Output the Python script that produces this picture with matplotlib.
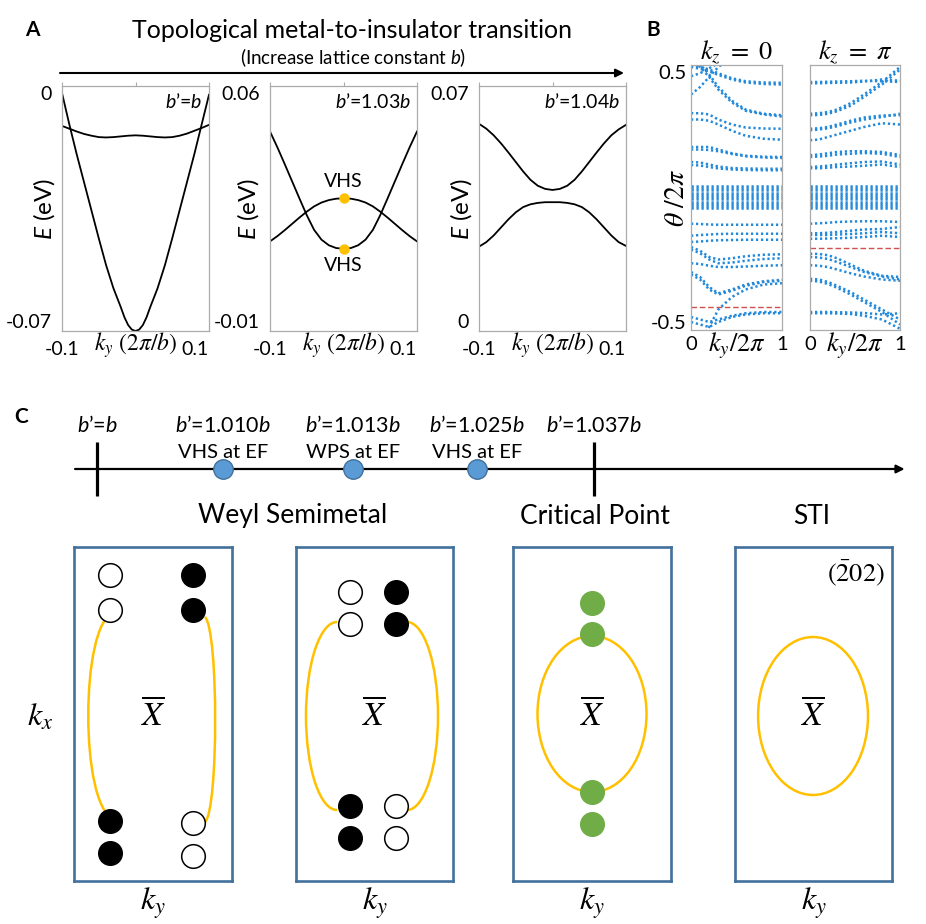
import numpy as np
import matplotlib
matplotlib.use('Agg')
import matplotlib.pyplot as plt
from matplotlib.patches import Arc, Ellipse, PathPatch
from matplotlib.path import Path

plt.rcParams['font.family'] = ['Lato', 'DejaVu Sans']
plt.rcParams['mathtext.fontset'] = 'custom'
plt.rcParams['mathtext.rm'] = 'Lato'
plt.rcParams['mathtext.it'] = 'Lato:italic'
plt.rcParams['mathtext.bf'] = 'Lato:bold'

# ---------------- data ----------------
# panel A: band dispersions E(ky), ky in units of 2pi/b
ky_a = [-0.1, -0.09, -0.08, -0.07, -0.06, -0.05, -0.04, -0.03, -0.02, -0.01, 0.0,
        0.01, 0.02, 0.03, 0.04, 0.05, 0.06, 0.07, 0.08, 0.09, 0.1]
ky_a_fine = [-0.1, -0.09, -0.08, -0.07, -0.06, -0.05, -0.04, -0.03, -0.02, -0.015, -0.01, -0.005, 0.0,
             0.005, 0.01, 0.015, 0.02, 0.03, 0.04, 0.05, 0.06, 0.07, 0.08, 0.09, 0.1]
e_b100_lower = [-0.002, -0.011, -0.0195, -0.0275, -0.0355, -0.0435, -0.0512, -0.0578, -0.0632, -0.0661, -0.0683,
                -0.0696, -0.070,
                -0.0696, -0.0683, -0.0661, -0.0632, -0.0578, -0.0512, -0.0435, -0.0355, -0.0275, -0.0195,
                -0.011, -0.0025]
e_b100_flat = [-0.0114, -0.0122, -0.0130, -0.0137, -0.0142, -0.0146, -0.0147, -0.0146, -0.0144, -0.0142, -0.0141,
               -0.0142, -0.0144, -0.0146, -0.0147, -0.0146, -0.0142, -0.0136, -0.0128, -0.0120, -0.0111]
e_b103_u = [0.047, 0.0425, 0.0377, 0.0328, 0.0279, 0.0231, 0.0189, 0.0161, 0.0145, 0.0137, 0.0135,
            0.0137, 0.0145, 0.0161, 0.0189, 0.0231, 0.0279, 0.0328, 0.0377, 0.0425, 0.047]
e_b103_hump = [0.0156, 0.0171, 0.0188, 0.0206, 0.0224, 0.0241, 0.0256, 0.0267, 0.0274, 0.0278, 0.0279,
               0.0278, 0.0274, 0.0267, 0.0256, 0.0241, 0.0224, 0.0206, 0.0188, 0.0171, 0.0156]
e_b104_upper = [0.0592, 0.0578, 0.0559, 0.0536, 0.0510, 0.0483, 0.0456, 0.0432, 0.0415, 0.0406, 0.0403,
                0.0406, 0.0415, 0.0432, 0.0456, 0.0483, 0.0510, 0.0536, 0.0559, 0.0576, 0.0589]
e_b104_lower = [0.0241, 0.0254, 0.0273, 0.0296, 0.0319, 0.0339, 0.0354, 0.0362, 0.0366, 0.0368, 0.0368,
                0.0368, 0.0366, 0.0362, 0.0354, 0.0339, 0.0319, 0.0296, 0.0273, 0.0254, 0.0243]
vhs_ky = [0.0, 0.0]
vhs_e = [0.0279, 0.0135]

a_titles = ["$b$\u2019=$b$", "$b$\u2019=1.03$b$", "$b$\u2019=1.04$b$"]
a_ylims = [(-0.07, 0.0), (-0.01, 0.06), (0.0, 0.07)]
a_yticklabels = [["-0.07", "0"], ["-0.01", "0.06"], ["0", "0.07"]]
a_bands = [[(ky_a_fine, e_b100_lower), (ky_a, e_b100_flat)],
           [(ky_a, e_b103_u), (ky_a, e_b103_hump)],
           [(ky_a, e_b104_upper), (ky_a, e_b104_lower)]]

# panel B: Wilson loop spectra theta/2pi vs ky/2pi
wl_k = [0, 0.1, 0.2, 0.3, 0.45, 0.6, 0.8, 1.0]
wl_kz0 = [
    [0.527, 0.52, 0.51, 0.495, 0.475, 0.463, 0.458, 0.457],
    [0.52, 0.513, 0.503, 0.488, 0.47, 0.458, 0.452, 0.45],
    [0.483, 0.495, 0.515, 0.535, 0.56, 0.58, 0.6, 0.6],
    [0.41, 0.44, 0.48, 0.52, 0.56, 0.6, 0.6, 0.6],
    [0.56, 0.53, 0.49, 0.44, 0.385, 0.35, 0.333, 0.327],
    [0.55, 0.52, 0.48, 0.43, 0.378, 0.345, 0.33, 0.322],
    [0.335, 0.335, 0.33, 0.31, 0.29, 0.278, 0.274, 0.273],
    [0.31, 0.31, 0.305, 0.29, 0.265, 0.245, 0.233, 0.229],
    [0.2, 0.2, 0.2, 0.19, 0.175, 0.165, 0.161, 0.16],
    [0.19, 0.19, 0.188, 0.183, 0.172, 0.163, 0.158, 0.156],
    [0.14, 0.138, 0.13, 0.122, 0.116, 0.114, 0.113, 0.113],
    [0.128, 0.126, 0.12, 0.114, 0.11, 0.108, 0.107, 0.107],
    [-0.107, -0.108, -0.11, -0.111, -0.111, -0.111, -0.111, -0.111],
    [-0.155, -0.152, -0.15, -0.148, -0.147, -0.147, -0.147, -0.147],
    [-0.18, -0.178, -0.175, -0.173, -0.172, -0.171, -0.171, -0.171],
    [-0.2, -0.215, -0.24, -0.25, -0.245, -0.237, -0.231, -0.229],
    [-0.21, -0.225, -0.25, -0.265, -0.262, -0.255, -0.248, -0.245],
    [-0.265, -0.268, -0.275, -0.28, -0.28, -0.278, -0.275, -0.273],
    [-0.3, -0.32, -0.36, -0.385, -0.37, -0.35, -0.337, -0.331],
    [-0.31, -0.33, -0.37, -0.39, -0.375, -0.355, -0.34, -0.335],
    [-0.48, -0.49, -0.5, -0.49, -0.475, -0.465, -0.46, -0.46],
    [-0.5, -0.51, -0.52, -0.5, -0.48, -0.47, -0.465, -0.465],
    [-0.62, -0.58, -0.52, -0.45, -0.4, -0.37, -0.35, -0.345],
]
wl_kzpi = [
    [0.46, 0.46, 0.461, 0.462, 0.463, 0.465, 0.463, 0.46],
    [0.455, 0.455, 0.456, 0.457, 0.458, 0.462, 0.47, 0.465],
    [0.333, 0.335, 0.34, 0.35, 0.375, 0.41, 0.46, 0.52],
    [0.327, 0.328, 0.333, 0.343, 0.365, 0.4, 0.45, 0.51],
    [0.273, 0.275, 0.28, 0.29, 0.305, 0.318, 0.326, 0.327],
    [0.267, 0.27, 0.275, 0.283, 0.298, 0.31, 0.32, 0.333],
    [0.227, 0.23, 0.24, 0.25, 0.265, 0.28, 0.295, 0.29],
    [0.167, 0.17, 0.175, 0.18, 0.183, 0.183, 0.18, 0.168],
    [0.16, 0.162, 0.165, 0.17, 0.173, 0.176, 0.173, 0.16],
    [0.12, 0.122, 0.125, 0.13, 0.135, 0.14, 0.142, 0.13],
    [0.115, 0.115, 0.117, 0.12, 0.122, 0.125, 0.13, 0.12],
    [-0.107, -0.105, -0.103, -0.1, -0.098, -0.097, -0.097, -0.1],
    [-0.145, -0.145, -0.143, -0.14, -0.135, -0.13, -0.128, -0.12],
    [-0.152, -0.152, -0.152, -0.15, -0.148, -0.145, -0.14, -0.145],
    [-0.167, -0.167, -0.166, -0.165, -0.163, -0.16, -0.155, -0.16],
    [-0.227, -0.228, -0.233, -0.245, -0.27, -0.295, -0.315, -0.32],
    [-0.24, -0.242, -0.248, -0.26, -0.28, -0.3, -0.318, -0.33],
    [-0.273, -0.275, -0.28, -0.29, -0.305, -0.318, -0.33, -0.335],
    [-0.327, -0.33, -0.34, -0.355, -0.38, -0.41, -0.45, -0.49],
    [-0.335, -0.338, -0.348, -0.363, -0.39, -0.42, -0.46, -0.51],
    [-0.46, -0.46, -0.46, -0.461, -0.462, -0.464, -0.47, -0.465],
    [-0.465, -0.465, -0.465, -0.466, -0.468, -0.475, -0.49, -0.527],
]
wl_center = [0.045, 0.036, 0.027, 0.018, 0.009, 0.0, -0.009, -0.018, -0.027, -0.036, -0.045]
wl_ref = [-0.44, -0.203]
b_titles = [r"$k_z\ =\ 0$", r"$k_z\ =\ \pi$"]

# panel C: timeline
tl_pos = [0, 1.014, 2.06, 3.058, 4.0]
tl_kind = ["tick", "dot", "dot", "dot", "tick"]
tl_labels = ["$b$\u2019=$b$", "$b$\u2019=1.010$b$", "$b$\u2019=1.013$b$", "$b$\u2019=1.025$b$", "$b$\u2019=1.037$b$"]
tl_notes = ["", "VHS at EF", "WPS at EF", "VHS at EF", ""]
phase_names = ["Weyl Semimetal", "Critical Point", "STI"]

# surface BZ schematics (ky, kx in units of half box)
w1_open_ky = [-0.55, -0.55, 0.5, 0.5]
w1_open_kx = [0.83, 0.62, -0.65, -0.85]
w1_fill_ky = [0.5, 0.5, -0.55, -0.55]
w1_fill_kx = [0.83, 0.62, -0.64, -0.83]
w1_arc_left = [(-0.506, 0.605), (-0.924, 0.533), (-0.924, -0.551), (-0.506, -0.623)]
w1_arc_right = [(0.658, 0.581), (0.83, 0.503), (0.83, -0.575), (0.658, -0.647)]
w2_open_ky = [-0.31, -0.31, 0.27, 0.27]
w2_open_kx = [0.73, 0.54, -0.55, -0.74]
w2_fill_ky = [0.27, 0.27, -0.31, -0.31]
w2_fill_kx = [0.73, 0.54, -0.55, -0.74]
w2_arc_left = (-0.478, -0.012, 0.79, 1.126)   # centre ky, centre kx, width, height
w2_arc_right = (0.414, -0.012, 0.79, 1.126)
cp_ky = [0, 0, 0, 0]
cp_kx = [0.665, 0.48, -0.47, -0.66]
cp_loop = (0.0, 0.0, 1.38, 0.934)
sti_loop = (-0.006, -0.012, 1.40, 0.946)

# ---------------- figure ----------------
W, H = 926, 924
fig = plt.figure(figsize=(W / 100, H / 100), dpi=100)


def px_axes(x0, y0, x1, y1):
    return fig.add_axes([x0 / W, 1 - y1 / H, (x1 - x0) / W, (y1 - y0) / H])


gray = '#ABABAB'
yellow = '#FFC000'
boxblue = '#41719C'
wl_blue = '#2389DA'

# ----- panel A -----
a_boxes = [(62, 86, 209, 331), (270, 86, 417, 331), (479, 86, 626, 331)]
a_ylab_x = [-0.122, -0.15, -0.122]
for i, box in enumerate(a_boxes):
    ax = px_axes(*box)
    for kk, band in a_bands[i]:
        ax.plot(kk, band, color='black', lw=1.3, solid_joinstyle='round')
    if i == 1:
        ax.plot(vhs_ky, vhs_e, 'o', ms=6.5, color=yellow, zorder=5)
        ax.annotate('VHS', (vhs_ky[0], vhs_e[0]), xytext=(0, 12), textcoords='offset points',
                    ha='center', va='center', fontsize=14)
        ax.annotate('VHS', (vhs_ky[1], vhs_e[1]), xytext=(0, -12), textcoords='offset points',
                    ha='center', va='center', fontsize=14)
    ax.set_xlim(-0.1, 0.1)
    ax.set_ylim(*a_ylims[i])
    for sp in ax.spines.values():
        sp.set_color(gray)
        sp.set_linewidth(0.9)
    ax.set_xticks([-0.1, 0, 0.1])
    ax.set_xticklabels(['-0.1', '', '0.1'])
    ax.tick_params(axis='x', bottom=False, top=True, direction='out', length=3, color=gray,
                   labelsize=14, pad=4)
    xl = ax.get_xticklabels()
    xl[2].set_ha('right')
    ax.set_yticks(list(a_ylims[i]))
    ax.set_yticklabels(a_yticklabels[i])
    ax.tick_params(axis='y', left=False, labelsize=14, pad=4)
    yl = ax.get_yticklabels()
    yl[0].set_va('bottom')
    yl[1].set_va('top')
    ax.text(a_ylab_x[i], 0.5, '$E$ (eV)', fontsize=17.5, rotation=90,
            ha='center', va='center', transform=ax.transAxes)
    ax.text(0.5, -0.058, r'$k_y\ (2\pi/b)$', math_fontfamily='stix', fontsize=17,
            ha='center', va='center', transform=ax.transAxes)
    ax.text(0.955, 0.935, a_titles[i], ha='right', va='center', fontsize=14,
            transform=ax.transAxes)

# ----- panel B -----
b_boxes = [(691, 65, 782, 330), (810, 65, 900, 330)]
for i, (box, bands) in enumerate(zip(b_boxes, [wl_kz0, wl_kzpi])):
    ax = px_axes(*box)
    for band in bands:
        ax.plot(wl_k, band, color=wl_blue, lw=1.8, ls=(0, (0.9, 1.1)))
    for lev in wl_center:
        ax.plot(wl_k, [lev] * len(wl_k), color=wl_blue, lw=1.8, ls=(0, (0.9, 1.1)))
    ax.axhline(wl_ref[i], color='#D0504D', lw=1.0, ls=(0, (4, 2)))
    ax.set_xlim(0, 1)
    ax.set_ylim(-0.532, 0.528)
    for sp in ax.spines.values():
        sp.set_color(gray)
        sp.set_linewidth(0.9)
    ax.set_xticks([0, 1])
    ax.set_xticklabels(['0', '1'])
    ax.tick_params(axis='both', length=0, labelsize=14.5, pad=4)
    if i == 0:
        ax.set_yticks([-0.5, 0.5])
        ax.set_yticklabels(['-0.5', '0.5'])
        ax.tick_params(axis='y', pad=3)
        ax.text(-0.16, 0.5, r'$\theta\ /2\pi$', math_fontfamily='stix', fontsize=20,
                rotation=90, ha='center', va='center', transform=ax.transAxes)
    else:
        ax.set_yticks([])
    ax.text(0.5, 1.05, b_titles[i], math_fontfamily='stix', fontsize=19,
            ha='center', va='center', transform=ax.transAxes)
    ax.text(0.5, -0.058, r'$k_y/2\pi$', math_fontfamily='stix', fontsize=19,
            ha='center', va='center', transform=ax.transAxes)

# ----- panel C timeline -----
tl = px_axes(0, 400, 926, 510)
tl.set_xlim(-0.781, 6.672)
tl.set_ylim(-41, 69)
tl.axis('off')
tl.annotate('', xy=(6.5, 0), xytext=(-0.177, 0),
            arrowprops=dict(arrowstyle='-|>', lw=1.6, color='black', mutation_scale=12,
                            shrinkA=0, shrinkB=0))
for p, kind, lab, note in zip(tl_pos, tl_kind, tl_labels, tl_notes):
    if kind == 'tick':
        tl.plot([p, p], [-27, 27], color='black', lw=2.3, solid_capstyle='butt')
    else:
        tl.plot(p, 0, 'o', ms=14, mfc='#5B9BD5', mec=boxblue, mew=1.0, zorder=5)
    tl.text(p, 44, lab, ha='center', va='center', fontsize=15.5)
    if note:
        tl.text(p, 17, note, ha='center', va='center', fontsize=14.5)

# ----- panel C surface BZs -----
c_boxes = [(74, 547, 232, 881), (296, 547, 453, 881), (513, 547, 671, 881), (735, 547, 892, 881)]
c_axes = []
for box in c_boxes:
    ax = px_axes(*box)
    ax.set_xlim(-1, 1)
    ax.set_ylim(-1, 1)
    ax.set_xticks([])
    ax.set_yticks([])
    for sp in ax.spines.values():
        sp.set_color(boxblue)
        sp.set_linewidth(1.9)
    ax.text(0.0, 0.0, r'$\overline{X}$', math_fontfamily='stix', fontsize=24,
            ha='center', va='center')
    ax.text(0.5, -0.066, r'$k_y$', math_fontfamily='stix', fontsize=23,
            ha='center', va='center', transform=ax.transAxes)
    c_axes.append(ax)

codes = [Path.MOVETO, Path.CURVE4, Path.CURVE4, Path.CURVE4]
ax = c_axes[0]
for arc in [w1_arc_left, w1_arc_right]:
    ax.add_patch(PathPatch(Path(arc, codes), fc='none', ec=yellow, lw=1.8, zorder=2))
ax.plot(w1_open_ky, w1_open_kx, 'o', ms=17, mfc='white', mec='black', mew=1.1, ls='none', zorder=3)
ax.plot(w1_fill_ky, w1_fill_kx, 'o', ms=17, mfc='black', mec='black', ls='none', zorder=3)
ax.text(-0.215, 0.49, r'$k_x$', math_fontfamily='stix', fontsize=23,
        ha='center', va='center', transform=ax.transAxes)

ax = c_axes[1]
cx, cy, w, h = w2_arc_left
ax.add_patch(Arc((cx, cy), w, h, theta1=90, theta2=270, color=yellow, lw=1.8, zorder=2))
cx, cy, w, h = w2_arc_right
ax.add_patch(Arc((cx, cy), w, h, theta1=-90, theta2=90, color=yellow, lw=1.8, zorder=2))
ax.plot(w2_open_ky, w2_open_kx, 'o', ms=17, mfc='white', mec='black', mew=1.1, ls='none', zorder=3)
ax.plot(w2_fill_ky, w2_fill_kx, 'o', ms=17, mfc='black', mec='black', ls='none', zorder=3)

ax = c_axes[2]
cx, cy, w, h = cp_loop
ax.add_patch(Ellipse((cx, cy), w, h, fc='none', ec=yellow, lw=1.8, zorder=2))
ax.plot(cp_ky, cp_kx, 'o', ms=17, color='#70AD47', ls='none', zorder=3)

ax = c_axes[3]
cx, cy, w, h = sti_loop
ax.add_patch(Ellipse((cx, cy), w, h, fc='none', ec=yellow, lw=1.8, zorder=2))
ax.text(0.77, 0.922, r'$(\bar{2}02)$', math_fontfamily='stix', fontsize=19,
        ha='center', va='center', transform=ax.transAxes)

# ----- overlay labels -----
ov = fig.add_axes([0, 0, 1, 1])
ov.set_xlim(0, W)
ov.set_ylim(H, 0)
ov.axis('off')
ov.annotate('', xy=(624, 73), xytext=(60, 73),
            arrowprops=dict(arrowstyle='-|>', lw=1.5, color='black', mutation_scale=12,
                            shrinkA=0, shrinkB=0))
ov.text(32, 30, 'A', fontsize=15, fontweight='bold', ha='center', va='center')
ov.text(653, 30, 'B', fontsize=15, fontweight='bold', ha='center', va='center')
ov.text(21, 417, 'C', fontsize=15, fontweight='bold', ha='center', va='center')
ov.text(352, 30, 'Topological metal-to-insulator transition', fontsize=18,
        ha='center', va='center')
ov.text(353, 58, '(Increase lattice constant $b$)', fontsize=13.5, ha='center', va='center')
for name, x in zip(phase_names, [293, 595, 812]):
    ov.text(x, 516, name, fontsize=19, ha='center', va='center')

fig.savefig('out.png', dpi=100)
